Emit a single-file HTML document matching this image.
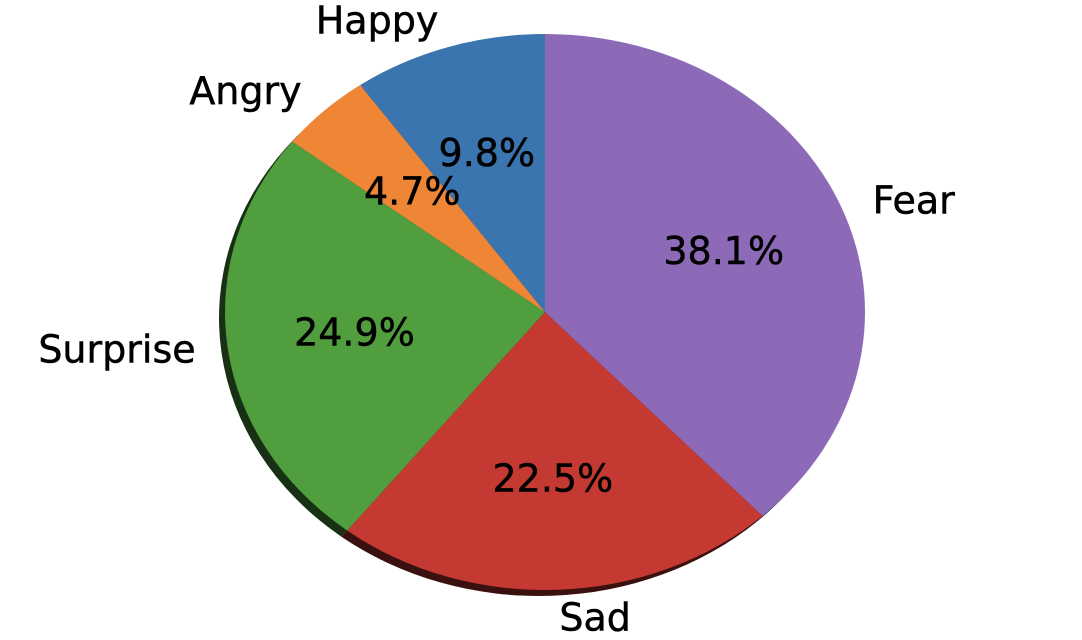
<!DOCTYPE html>
<html><head><meta charset="utf-8"><style>
html,body{margin:0;padding:0;background:#fff;width:1082px;height:640px;overflow:hidden}
svg text{font-family:"DejaVu Sans","Liberation Sans",sans-serif;font-size:38px;fill:#000;stroke:#000;stroke-width:0.5px}
</style></head><body>
<svg id="chart" width="1082" height="640" xmlns="http://www.w3.org/2000/svg">
<g id="shadows"></g>
<g id="slices"></g>
<g id="labels"></g>
</svg>
<script>
const categories = ["Happy","Angry","Surprise","Sad","Fear"];
const values = [9.8, 4.7, 24.9, 22.5, 38.1];
const pctLabels = ["9.8%","4.7%","24.9%","22.5%","38.1%"];
const colors = ["#3a75af","#ef8636","#519e3e","#c43a32","#8d6ab8"];
const shadowColors = ["#11233a","#482811","#183013","#3b110f","#2a2037"];

const cx=545, cy=312, rx=320, ry=278, sdx=-6, sdy=6;
const NS="http://www.w3.org/2000/svg";
const total=values.reduce((a,b)=>a+b,0);
function pt(a,r,ox,oy){const t=a*Math.PI/180;return [cx+ox+r*rx*Math.cos(t), cy+oy-r*ry*Math.sin(t)];}
function arcPath(a0,a1,ox,oy){
  const p0=pt(a0,1,ox,oy), p1=pt(a1,1,ox,oy);
  const large=(a1-a0)>180?1:0;
  return `M${cx+ox},${cy+oy} L${p0[0]},${p0[1]} A${rx},${ry} 0 ${large} 0 ${p1[0]},${p1[1]} Z`;
}
let a=90;
const sh=document.getElementById('shadows'), sl=document.getElementById('slices'), lb=document.getElementById('labels');
values.forEach((v,i)=>{
  const span=v/total*360, a1=a+span, mid=a+span/2;
  const s=document.createElementNS(NS,'path');
  s.setAttribute('d',arcPath(a,a1,sdx,sdy));s.setAttribute('fill',shadowColors[i]);
  
  
  sh.appendChild(s);
  const p=document.createElementNS(NS,'path');
  p.setAttribute('d',arcPath(a,a1,0,0));p.setAttribute('fill',colors[i]);
  
  
  sl.appendChild(p);
  const lp=pt(mid,1.1,0,0);
  const t=document.createElementNS(NS,'text');
  t.setAttribute('x',lp[0]);t.setAttribute('y',lp[1]);
  t.setAttribute('text-anchor',Math.cos(mid*Math.PI/180)<0?'end':'start');
  t.setAttribute('dominant-baseline','central');
  t.textContent=categories[i];
  
  
  lb.appendChild(t);
  const pp=pt(mid,0.6,0,0);
  const q=document.createElementNS(NS,'text');
  q.setAttribute('x',pp[0]);q.setAttribute('y',pp[1]);
  q.setAttribute('text-anchor','middle');q.setAttribute('dominant-baseline','central');
  q.textContent=pctLabels[i];
  
  
  lb.appendChild(q);
  a=a1;
});
</script>
</body></html>
